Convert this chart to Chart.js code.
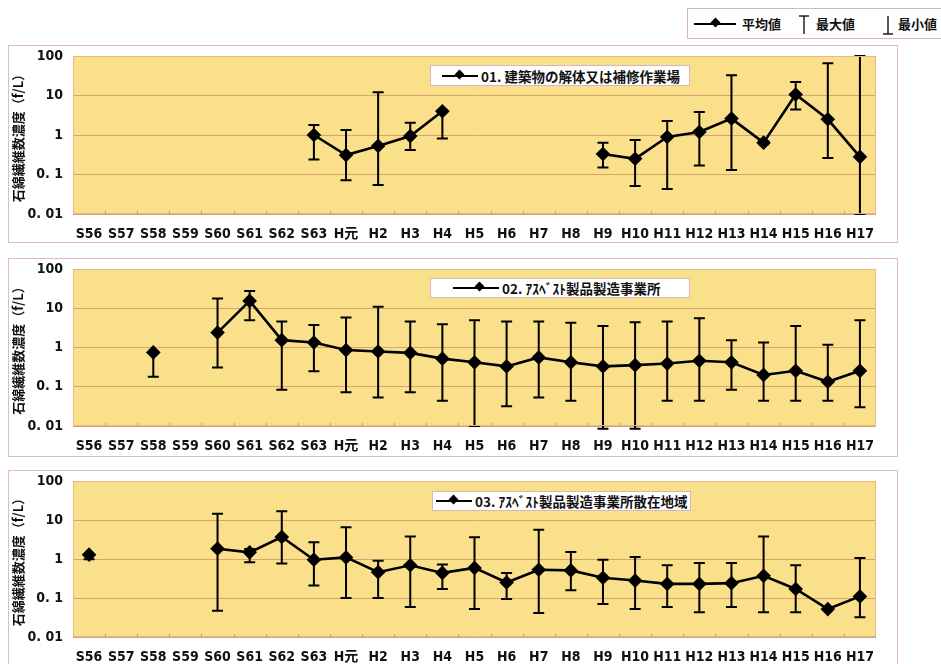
<!DOCTYPE html>
<html><head><meta charset="utf-8">
<script src="https://cdn.jsdelivr.net/npm/chart.js@4.4.1/dist/chart.umd.min.js"></script>
<style>
html,body{margin:0;padding:0;background:#fff;}
body{width:941px;height:664px;overflow:hidden;position:relative;font-family:"Liberation Sans Narrow","DejaVu Sans Condensed","Noto Sans CJK JP",sans-serif;}
.wrap{position:absolute;left:8px;width:890px;}
.frame{position:absolute;left:8px;width:890px;border:1px solid #e3b9c6;box-sizing:border-box;pointer-events:none;}
.leg{position:absolute;background:#fff;border:1px solid #d8b4bc;box-sizing:border-box;display:flex;align-items:center;font:bold 13.5px "Noto Sans CJK JP",sans-serif;color:#111;white-space:nowrap;}
.sym{position:relative;display:inline-block;height:2px;background:#000;margin-right:3px;}
.sym i{position:absolute;top:-4px;width:7px;height:7px;background:#000;transform:rotate(45deg);}
.top{position:absolute;left:687px;top:8px;width:262px;height:31px;border:1px solid #d8b4bc;box-sizing:border-box;font:bold 13px "Noto Sans CJK JP",sans-serif;color:#111;}
.top span{position:absolute;top:5px;}
</style>
</head><body>

<div class="top">
  <div class="sym" style="position:absolute;left:6px;top:14px;width:42px;"><i style="left:18px"></i></div>
  <span style="left:54px">平均値</span>
  <svg style="position:absolute;left:110px;top:6px" width="12" height="20"><line x1="6" y1="1" x2="6" y2="19" stroke="#000" stroke-width="1.3"/><line x1="1" y1="1" x2="11" y2="1" stroke="#000" stroke-width="1.3"/></svg>
  <span style="left:128px">最大値</span>
  <svg style="position:absolute;left:194px;top:6px" width="12" height="20"><line x1="6" y1="1" x2="6" y2="19" stroke="#000" stroke-width="1.3"/><line x1="1" y1="19" x2="11" y2="19" stroke="#000" stroke-width="1.3"/></svg>
  <span style="left:210px">最小値</span>
</div>

<div class="wrap" style="top:45px;height:198px"><canvas id="c1" width="890" height="198"></canvas></div>
<div class="frame" style="top:45px;height:198px"></div>
<div class="wrap" style="top:258px;height:199px"><canvas id="c2" width="890" height="199"></canvas></div>
<div class="frame" style="top:258px;height:199px"></div>
<div class="wrap" style="top:470px;height:194px"><canvas id="c3" width="890" height="194"></canvas></div>
<div class="frame" style="top:470px;height:200px"></div>

<div class="leg" style="left:430px;top:65px;width:260px;height:21px;padding-left:11px;">
  <div class="sym" style="width:36px"><i style="left:14px"></i></div>01. 建築物の解体又は補修作業場</div>
<div class="leg" style="left:430px;top:278px;width:260px;height:20px;padding-left:22px;">
  <div class="sym" style="width:46px"><i style="left:23px"></i></div>02. ｱｽﾍﾞｽﾄ製品製造事業所</div>
<div class="leg" style="left:432px;top:491px;width:259px;height:20px;padding-left:3px;">
  <div class="sym" style="width:36px"><i style="left:14px"></i></div>03. ｱｽﾍﾞｽﾄ製品製造事業所散在地域</div>

<script>
// ---- data ----
const categories = ["S56","S57","S58","S59","S60","S61","S62","S63","H元","H2","H3","H4","H5","H6","H7","H8","H9","H10","H11","H12","H13","H14","H15","H16","H17"];
const yTickValues = [0.01, 0.1, 1, 10, 100];
const yTickLabels = ["0. 01", "0. 1", "1", "10", "100"];
const yTitle = "石綿繊維数濃度（f/L）";

// 01. 建築物の解体又は補修作業場
const p1Mean = [null,null,null,null,null,null,null,1.0,0.31,0.53,0.94,4.0,null,null,null,null,0.33,0.25,0.89,1.19,2.6,0.64,10.6,2.5,0.28];
const p1Max  = [null,null,null,null,null,null,null,1.79,1.34,12.1,2.05,4.0,null,null,null,null,0.64,0.75,2.25,3.8,32.7,0.7,22,66,100];
const p1Min  = [null,null,null,null,null,null,null,0.24,0.072,0.054,0.42,0.82,null,null,null,null,0.15,0.051,0.043,0.17,0.13,0.58,4.4,0.26,0.01];

// 02. ｱｽﾍﾞｽﾄ製品製造事業所
const p2Mean = [null,null,0.75,null,2.4,15.4,1.54,1.34,0.86,0.79,0.73,0.52,0.42,0.33,0.56,0.42,0.33,0.355,0.39,0.46,0.42,0.2,0.255,0.134,0.255];
const p2Max  = [null,null,0.75,null,17.6,27.6,4.6,3.77,5.8,11,4.6,3.9,4.95,4.6,4.6,4.3,3.55,4.4,4.6,5.6,1.54,1.34,3.55,1.17,4.95];
const p2Min  = [null,null,0.18,null,0.31,4.95,0.084,0.25,0.072,0.053,0.072,0.044,0.01,0.032,0.053,0.044,0.0085,0.0085,0.044,0.044,0.084,0.044,0.044,0.044,0.03];

// 03. ｱｽﾍﾞｽﾄ製品製造事業所散在地域
const p3Mean = [1.29,null,null,null,1.84,1.48,3.66,0.96,1.1,0.46,0.69,0.44,0.59,0.25,0.53,0.51,0.33,0.28,0.23,0.23,0.24,0.37,0.17,0.052,0.11];
const p3Max  = [1.29,null,null,null,14.5,1.8,16.7,2.67,6.5,0.9,3.8,0.72,3.6,0.44,5.65,1.51,0.96,1.12,0.69,0.79,0.79,3.8,0.69,0.052,1.06];
const p3Min  = [0.98,null,null,null,0.047,0.82,0.77,0.21,0.1,0.1,0.059,0.17,0.052,0.094,0.041,0.157,0.07,0.052,0.059,0.043,0.059,0.043,0.043,0.052,0.032];

// ---- plugins ----
const bgPlugin = {
  id: 'bg',
  beforeDraw(chart) {
    const {ctx, chartArea:a} = chart;
    ctx.save();
    ctx.fillStyle = '#fbe08c';
    ctx.fillRect(a.left, a.top, a.right - a.left, a.bottom - a.top);
    ctx.restore();
  },
  afterDraw(chart) {
    const {ctx, chartArea:a, scales:{x}} = chart;
    ctx.save();
    ctx.strokeStyle = '#e7b685';
    ctx.lineWidth = 1;
    ctx.strokeRect(a.left + 0.5, a.top + 0.5, a.right - a.left - 1, a.bottom - a.top - 1);
    ctx.strokeStyle = '#c99a6a';
    const n = x.getLabels().length;
    const w = (a.right - a.left) / n;
    for (let i = 1; i < n; i++) {
      const bx = Math.round(a.left + i * w) + 0.5;
      ctx.beginPath(); ctx.moveTo(bx, a.bottom); ctx.lineTo(bx, a.bottom - 3); ctx.stroke();
    }
    ctx.restore();
  }
};
const errPlugin = {
  id: 'err',
  beforeDatasetsDraw(chart, args, opts) {
    const {ctx, scales:{x, y}} = chart;
    ctx.save();
    ctx.strokeStyle = '#000';
    ctx.lineWidth = 2;
    const cap = 5.5;
    opts.max.forEach((mx, i) => {
      const mn = opts.min[i];
      if (mx == null || mn == null) return;
      const px = x.getPixelForValue(i);
      const y1 = y.getPixelForValue(mx), y2 = y.getPixelForValue(mn);
      ctx.beginPath();
      ctx.moveTo(px, y1); ctx.lineTo(px, y2);
      ctx.moveTo(px - cap, y1); ctx.lineTo(px + cap, y1);
      ctx.moveTo(px - cap, y2); ctx.lineTo(px + cap, y2);
      ctx.stroke();
    });
    ctx.restore();
  }
};

function makePanel(id, mean, max, min, canvasH, plotH) {
  const xAxisH = canvasH - 11 - plotH;
  new Chart(document.getElementById(id), {
    type: 'line',
    data: {
      labels: categories,
      datasets: [{
        data: mean,
        borderColor: '#000', borderWidth: 2.6,
        pointStyle: 'rectRot', pointRadius: 5.5,
        pointBackgroundColor: '#000', pointBorderColor: '#000',
        tension: 0, spanGaps: false, clip: false
      }]
    },
    options: {
      responsive: false, animation: false, devicePixelRatio: 1,
      layout: { padding: { left: 0, top: 11, right: 22, bottom: 0 } },
      plugins: {
        legend: { display: false }, tooltip: { enabled: false },
        err: { max: max, min: min }
      },
      scales: {
        x: {
          type: 'category', offset: true,
          grid: { display: false, drawTicks: false },
          border: { display: false },
          ticks: {
            autoSkip: false, maxRotation: 0, padding: 12, color: '#111',
            font: { family: '"Liberation Sans Narrow","DejaVu Sans Condensed","Noto Sans CJK JP",sans-serif', size: 14, weight: 'bold' }
          },
          afterFit(s) { s.height = xAxisH; s.paddingLeft = 0; s.paddingRight = 0; }
        },
        y: {
          type: 'logarithmic', min: 0.01, max: 100,
          afterBuildTicks(s) { s.ticks = yTickValues.map(v => ({ value: v })); },
          grid: { color: '#d9a36f', lineWidth: 1, drawTicks: false },
          border: { display: false },
          ticks: {
            padding: 10, color: '#111',
            font: { family: '"Liberation Sans Narrow","DejaVu Sans Condensed",sans-serif', size: 14, weight: 'bold' },
            callback(v) { const k = yTickValues.indexOf(v); return k >= 0 ? yTickLabels[k] : ''; }
          },
          title: {
            display: true, text: yTitle, color: '#111',
            font: { family: '"Noto Sans CJK JP",sans-serif', size: 13, weight: 'bold' },
            padding: { top: 2, bottom: 0 }
          },
          afterFit(s) { s.width = 65; s.paddingTop = 0; s.paddingBottom = 0; }
        }
      }
    },
    plugins: [bgPlugin, errPlugin]
  });
}

makePanel('c1', p1Mean, p1Max, p1Min, 198, 158);
makePanel('c2', p2Mean, p2Max, p2Min, 199, 157);
makePanel('c3', p3Mean, p3Max, p3Min, 194, 156);
</script>
</body></html>
